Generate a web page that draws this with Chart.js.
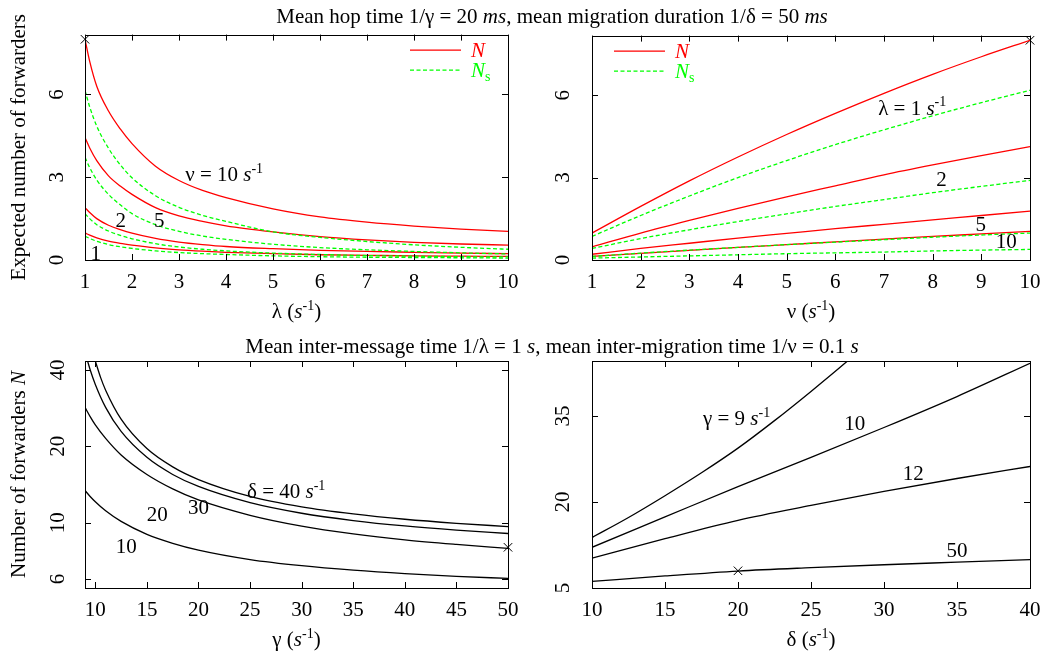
<!DOCTYPE html>
<html lang="en">
<head>
<meta charset="UTF-8">
<title>Expected number of forwarders</title>
<script src="https://cdn.jsdelivr.net/npm/chart.js"></script>
<style>
  body { margin: 0; background: #fff; }
  canvas { position: absolute; left: 0; top: 0; }
  .ttl { position: absolute; left: 552px; transform: translateX(-50%); white-space: nowrap;
         font: 21px "Liberation Serif", serif; line-height: 24px; color: #000; }
</style>
</head>
<body>
<canvas id="tl" width="1055" height="653"></canvas>
<canvas id="tr" width="1055" height="653"></canvas>
<canvas id="bl" width="1055" height="653"></canvas>
<canvas id="br" width="1055" height="653"></canvas>
<div class="ttl" style="top:4px">Mean hop time 1/γ = 20 <i>ms</i>, mean migration duration 1/δ = 50 <i>ms</i></div>
<div class="ttl" style="top:334px">Mean inter-message time 1/λ = 1 <i>s</i>, mean inter-migration time 1/ν = 0.1 <i>s</i></div>
<script>
// ---- top left: N and Ns against lambda, one pair per nu
var lambdaVals = [1, 1.1, 1.25, 1.5, 1.75, 2, 2.5, 3, 3.5, 4, 5, 6, 7, 8, 9, 10];
var nu10N  = [8.0, 7.2, 6.3, 5.4, 4.75, 4.22, 3.4, 2.88, 2.52, 2.26, 1.85, 1.56, 1.37, 1.23, 1.12, 1.04];
var nu10Ns = [6.15, 5.55, 4.85, 4.05, 3.45, 2.98, 2.33, 1.91, 1.62, 1.4, 1.02, 0.82, 0.67, 0.55, 0.46, 0.39];
var nu5N   = [4.44, 4.06, 3.6, 3.05, 2.68, 2.38, 1.9, 1.6, 1.4, 1.24, 1.02, 0.85, 0.73, 0.64, 0.58, 0.54];
var nu5Ns  = [3.72, 3.35, 2.9, 2.38, 2.0, 1.68, 1.28, 1.04, 0.87, 0.75, 0.57, 0.45, 0.37, 0.31, 0.26, 0.22];
var nu2N   = [1.9, 1.72, 1.5, 1.26, 1.1, 0.97, 0.78, 0.65, 0.56, 0.49, 0.41, 0.35, 0.31, 0.28, 0.25, 0.23];
var nu2Ns  = [1.68, 1.5, 1.28, 1.05, 0.89, 0.77, 0.59, 0.47, 0.39, 0.33, 0.25, 0.2, 0.16, 0.14, 0.12, 0.11];
var nu1N   = [0.98, 0.9, 0.8, 0.68, 0.6, 0.54, 0.44, 0.37, 0.32, 0.28, 0.23, 0.19, 0.17, 0.15, 0.14, 0.13];
var nu1Ns  = [0.86, 0.78, 0.68, 0.56, 0.48, 0.42, 0.33, 0.27, 0.23, 0.2, 0.15, 0.12, 0.1, 0.09, 0.08, 0.07];

// ---- top right: N and Ns against nu, one pair per lambda
var nuVals  = [1, 2, 3, 4, 5, 6, 7, 8, 9, 10];
var lam1N   = [0.98, 1.95, 2.88, 3.75, 4.57, 5.34, 6.07, 6.76, 7.4, 8.0];
var lam1Ns  = [0.86, 1.62, 2.33, 3.0, 3.62, 4.2, 4.74, 5.25, 5.73, 6.18];
var lam2N   = [0.48, 0.98, 1.44, 1.88, 2.3, 2.7, 3.1, 3.46, 3.8, 4.13];
var lam2Ns  = [0.42, 0.78, 1.1, 1.4, 1.68, 1.95, 2.2, 2.45, 2.68, 2.9];
var lam5N   = [0.21, 0.42, 0.61, 0.8, 0.97, 1.14, 1.3, 1.46, 1.62, 1.78];
var lam5Ns  = [0.13, 0.25, 0.36, 0.46, 0.56, 0.65, 0.74, 0.83, 0.91, 0.98];
var lam10N  = [0.13, 0.24, 0.35, 0.46, 0.56, 0.66, 0.76, 0.86, 0.95, 1.04];
var lam10Ns = [0.07, 0.11, 0.15, 0.19, 0.23, 0.26, 0.29, 0.33, 0.36, 0.385];

// ---- bottom left: N against gamma (log axis), one curve per delta
var gammaVals = [9, 9.5, 10, 11, 12.5, 15, 17.5, 20, 25, 30, 35, 40, 45, 50];
var gammaD30  = [9.25, 9.5, 10, 11, 12.5, 15, 17.5, 20, 25, 30, 35, 40, 45, 50];
var gammaD40  = [10, 10.5, 11, 12.5, 15, 17.5, 20, 25, 30, 35, 40, 45, 50];
var delta10 = [13.4, 12.69, 12.1, 11.14, 10.12, 9.0, 8.3, 7.8, 7.16, 6.77, 6.5, 6.3, 6.15, 6.03];
var delta20 = [28.5, 26.2, 24.3, 21.5, 18.5, 15.5, 13.6, 12.3, 10.7, 9.7, 9.04, 8.56, 8.21, 7.92];
var delta30 = [43.4, 40.1, 35.1, 28.5, 22.9, 18.1, 15.5, 13.9, 12.0, 10.9, 10.2, 9.71, 9.35, 9.07];
var delta40 = [43.4, 37.5, 33.3, 25.6, 19.6, 16.6, 14.8, 12.7, 11.55, 10.83, 10.32, 9.95, 9.66];

// ---- bottom right: N against delta, one curve per gamma
var deltaVals = [10, 15, 20, 25, 30, 35, 40];
var deltaG9   = [10, 12.5, 15, 17.5, 20, 22.5, 25, 27.5, 30];
var gamma9  = [13.8, 17.3, 21.1, 25.1, 29.4, 34.2, 39.3, 44.6, 50.2];
var gamma10 = [12.1, 17.4, 22.7, 27.8, 33.0, 38.4, 44.2];
var gamma12 = [10.2, 13.6, 16.8, 19.4, 21.85, 24.1, 26.2];
var gamma50 = [6.15, 7.1, 7.96, 8.55, 9.06, 9.5, 9.94];

// the reference point (1/gamma=20ms, 1/delta=50ms, lambda=1, nu=10) marked with a cross
var refN = 8.0;

var topXTicks = [1, 2, 3, 4, 5, 6, 7, 8, 9, 10];
var topYTicks = [0, 3, 6];
var blXTicks = [10, 15, 20, 25, 30, 35, 40, 45, 50];
var blYTicks = [6, 10, 20, 40];
var brXTicks = [10, 15, 20, 25, 30, 35, 40];
var brYTicks = [5, 20, 35];

var SERIF = '"Liberation Serif", "Times New Roman", serif';
var FS = 21;
var RED = '#ff0000', GREEN = '#00ff00';

function pts(xs, ys) {
    return ys.map(function(v, i) { return {x: xs[i], y: v}; });
}
function solid(xs, ys, color) {
    return {data: pts(xs, ys), borderColor: color, borderWidth: 1.3, pointRadius: 0, cubicInterpolationMode: 'monotone'};
}
function dashed(xs, ys) {
    var d = solid(xs, ys, GREEN);
    d.borderDash = [4, 2.5];
    return d;
}
function cross(x, y) {
    return {data: [{x: x, y: y}], showLine: false, pointStyle: 'crossRot', pointRadius: 6,
            borderColor: '#000', borderWidth: 1, clip: false};
}

// rich text: parts are [text, style] with style '', 'i', 'sup', 'sub'
function fontOf(style, size) {
    return (style === 'i' ? 'italic ' : '') + size + 'px ' + SERIF;
}
function partSize(p) {
    return (p[1] === 'sup' || p[1] === 'sub') ? Math.round(FS * 0.65) : FS;
}
function richWidth(ctx, parts) {
    var w = 0;
    parts.forEach(function(p) {
        ctx.font = fontOf(p[1], partSize(p));
        w += ctx.measureText(p[0]).width;
    });
    return w;
}
function drawRich(ctx, parts, cx, cy, color, align, rotate) {
    ctx.save();
    ctx.translate(cx, cy);
    if (rotate) ctx.rotate(-Math.PI / 2);
    var x = align === 'left' ? 0 : -richWidth(ctx, parts) / 2;
    ctx.textBaseline = 'alphabetic';
    ctx.textAlign = 'left';
    parts.forEach(function(p) {
        ctx.font = fontOf(p[1], partSize(p));
        ctx.fillStyle = color;
        var dy = FS * 0.33;
        if (p[1] === 'sup') dy -= FS * 0.4;
        if (p[1] === 'sub') dy += FS * 0.2;
        ctx.fillText(p[0], x, dy);
        x += ctx.measureText(p[0]).width;
    });
    ctx.restore();
}

// frame with inward ticks on all four sides, curve labels, axis titles, legend
function framePlugin(cfg) {
    return {
        id: 'frame',
        afterDraw: function(chart) {
            var ctx = chart.ctx, a = chart.chartArea;
            var sx = chart.scales.x, sy = chart.scales.y;
            ctx.save();
            ctx.strokeStyle = '#000';
            ctx.lineWidth = 1;
            ctx.beginPath();
            sx.ticks.forEach(function(t) {
                var p = Math.round(sx.getPixelForValue(t.value)) + 0.5;
                ctx.moveTo(p, a.bottom); ctx.lineTo(p, a.bottom - 6);
                ctx.moveTo(p, a.top); ctx.lineTo(p, a.top + 6);
            });
            sy.ticks.forEach(function(t) {
                var p = Math.round(sy.getPixelForValue(t.value)) + 0.5;
                ctx.moveTo(a.left, p); ctx.lineTo(a.left + 6, p);
                ctx.moveTo(a.right, p); ctx.lineTo(a.right - 6, p);
            });
            ctx.stroke();
            ctx.strokeRect(Math.round(a.left) + 0.5, Math.round(a.top) + 0.5,
                           Math.round(a.right - a.left), Math.round(a.bottom - a.top));

            cfg.labels.forEach(function(l) {
                drawRich(ctx, l.parts, sx.getPixelForValue(l.x), sy.getPixelForValue(l.y), '#000', 'center');
            });
            drawRich(ctx, cfg.xTitle, (a.left + a.right) / 2, a.bottom + 51, '#000', 'center');
            if (cfg.yTitle) drawRich(ctx, cfg.yTitle, 18, (a.top + a.bottom) / 2, '#000', 'center', true);

            if (cfg.legend) {
                var x0 = cfg.legend === 'right' ? a.right - 98 : a.left + 22;
                ctx.lineWidth = 1.3;
                ctx.strokeStyle = RED;
                ctx.beginPath(); ctx.moveTo(x0, a.top + 15.5); ctx.lineTo(x0 + 51, a.top + 15.5); ctx.stroke();
                ctx.strokeStyle = GREEN;
                ctx.setLineDash([4, 2.5]);
                ctx.beginPath(); ctx.moveTo(x0, a.top + 35.5); ctx.lineTo(x0 + 51, a.top + 35.5); ctx.stroke();
                ctx.setLineDash([]);
                drawRich(ctx, [['N', 'i']], x0 + 61, a.top + 15, RED, 'left');
                drawRich(ctx, [['N', 'i'], ['s', 'sub']], x0 + 61, a.top + 35, GREEN, 'left');
            }
            ctx.restore();
        }
    };
}

function makeChart(id, cfg) {
    var tickFont = {family: SERIF, size: FS};
    var yScale = {
        type: cfg.yType || 'linear', min: cfg.yMin, max: cfg.yMax,
        afterBuildTicks: function(s) { s.ticks = cfg.yTicks.map(function(v) { return {value: v}; }); },
        afterFit: function(s) { s.width = 60; },
        grid: {display: false, drawTicks: false}, border: {display: false},
        ticks: {font: tickFont, color: '#000', minRotation: 90, maxRotation: 90, crossAlign: 'center',
                padding: cfg.yPad, autoSkip: false, callback: function(v) { return String(v); }}
    };
    new Chart(document.getElementById(id), {
        type: 'line',
        data: {datasets: cfg.datasets},
        options: {
            responsive: false,
            animation: false,
            events: [],
            layout: {padding: {left: cfg.area[0] - 60, top: cfg.area[1], right: 1055 - cfg.area[2], bottom: 653 - cfg.area[3] - 40}},
            plugins: {legend: {display: false}, tooltip: {enabled: false}},
            scales: {
                x: {
                    type: 'linear', min: cfg.xMin, max: cfg.xMax,
                    afterBuildTicks: function(s) { s.ticks = cfg.xTicks.map(function(v) { return {value: v}; }); },
                    afterFit: function(s) { s.height = 40; },
                    grid: {display: false, drawTicks: false}, border: {display: false},
                    ticks: {font: tickFont, color: '#000', padding: 10, maxRotation: 0, autoSkip: false,
                            callback: function(v) { return String(v); }}
                },
                y: yScale
            }
        },
        plugins: [framePlugin(cfg)]
    });
}

var perS = [['s', 'i'], ['-1', 'sup']];

makeChart('tl', {
    area: [85, 33, 508, 260], xMin: 1, xMax: 10, yMin: 0, yMax: 8.17,
    xTicks: topXTicks, yTicks: topYTicks, yPad: 22,
    datasets: [
        solid(lambdaVals, nu10N, RED), dashed(lambdaVals, nu10Ns),
        solid(lambdaVals, nu5N, RED), dashed(lambdaVals, nu5Ns),
        solid(lambdaVals, nu2N, RED), dashed(lambdaVals, nu2Ns),
        solid(lambdaVals, nu1N, RED), dashed(lambdaVals, nu1Ns),
        cross(1, refN)
    ],
    labels: [
        {x: 3.96, y: 3.1, parts: [['ν = 10 ', '']].concat(perS)},
        {x: 1.76, y: 1.44, parts: [['2', '']]},
        {x: 2.58, y: 1.44, parts: [['5', '']]},
        {x: 1.23, y: 0.24, parts: [['1', '']]}
    ],
    xTitle: [['λ (', '']].concat(perS, [[')', '']]),
    yTitle: [['Expected number of forwarders', '']],
    legend: 'right'
});

makeChart('tr', {
    area: [592, 33, 1030, 260], xMin: 1, xMax: 10, yMin: 0, yMax: 8.17,
    xTicks: topXTicks, yTicks: topYTicks, yPad: 23,
    datasets: [
        solid(nuVals, lam1N, RED), dashed(nuVals, lam1Ns),
        solid(nuVals, lam2N, RED), dashed(nuVals, lam2Ns),
        solid(nuVals, lam5N, RED), dashed(nuVals, lam5Ns),
        solid(nuVals, lam10N, RED), dashed(nuVals, lam10Ns),
        cross(10, refN)
    ],
    labels: [
        {x: 7.58, y: 5.54, parts: [['λ = 1 ', '']].concat(perS)},
        {x: 8.18, y: 2.94, parts: [['2', '']]},
        {x: 8.99, y: 1.32, parts: [['5', '']]},
        {x: 9.51, y: 0.69, parts: [['10', '']]}
    ],
    xTitle: [['ν (', '']].concat(perS, [[')', '']]),
    legend: 'left'
});

makeChart('bl', {
    area: [85, 361, 508, 588], xMin: 9, xMax: 50, yType: 'logarithmic', yMin: 5.53, yMax: 43.4,
    xTicks: blXTicks, yTicks: blYTicks, yPad: 16,
    datasets: [
        solid(gammaVals, delta10, '#000'),
        solid(gammaVals, delta20, '#000'),
        solid(gammaD30, delta30, '#000'),
        solid(gammaD40, delta40, '#000'),
        cross(50, refN)
    ],
    labels: [
        {x: 28.5, y: 13.3, parts: [['δ = 40 ', '']].concat(perS)},
        {x: 20.0, y: 11.5, parts: [['30', '']]},
        {x: 16.0, y: 10.8, parts: [['20', '']]},
        {x: 13.0, y: 8.07, parts: [['10', '']]}
    ],
    xTitle: [['γ (', '']].concat(perS, [[')', '']]),
    yTitle: [['Number of forwarders ', ''], ['N', 'i']]
});

makeChart('br', {
    area: [592, 361, 1030, 588], xMin: 10, xMax: 40, yMin: 5, yMax: 44.6,
    xTicks: brXTicks, yTicks: brYTicks, yPad: 18,
    datasets: [
        solid(deltaG9, gamma9, '#000'),
        solid(deltaVals, gamma10, '#000'),
        solid(deltaVals, gamma12, '#000'),
        solid(deltaVals, gamma50, '#000'),
        cross(20, refN)
    ],
    labels: [
        {x: 19.9, y: 34.65, parts: [['γ = 9 ', '']].concat(perS)},
        {x: 28.0, y: 33.8, parts: [['10', '']]},
        {x: 32.0, y: 25.1, parts: [['12', '']]},
        {x: 35.0, y: 11.56, parts: [['50', '']]}
    ],
    xTitle: [['δ (', '']].concat(perS, [[')', '']])
});
</script>
</body>
</html>
